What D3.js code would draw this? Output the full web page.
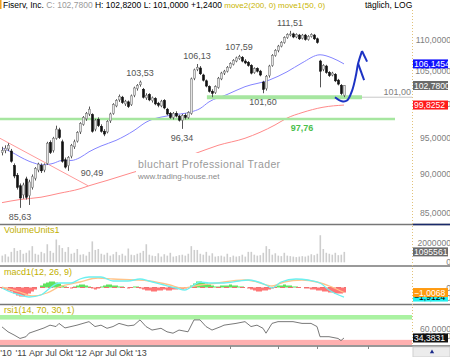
<!DOCTYPE html>
<html>
<head>
<meta charset="utf-8">
<script src="https://cdn.jsdelivr.net/npm/d3@7"></script>
<style>
  body { margin: 0; background: #fff; }
  svg { display: block; font-family: "Liberation Sans", Arial, sans-serif; }
</style>
</head>
<body>
<div id="chart"></div>
<script>
// ---- data ----
var opens = [93.0,93.3,93.5,93.2,91.2,89.9,88.5,87.3,89.4,87.2,88.3,89.5,90.6,91.2,90.6,91.5,94.4,93.3,95.0,96.2,
  94.5,92.0,91.2,92.5,93.8,94.6,95.9,97.0,97.8,98.5,98.4,96.3,97.7,96.7,96.0,95.9,97.5,98.6,99.7,100.6,
  101.0,100.0,100.3,99.9,101.3,102.3,102.9,102.2,100.9,101.4,100.5,100.8,100.1,99.7,100.5,99.2,98.6,98.0,98.6,98.2,
  97.6,98.3,98.0,98.6,103.9,105.3,105.5,104.4,103.5,102.6,101.9,101.7,102.5,103.8,104.7,105.0,105.6,106.1,106.6,107.0,
  107.2,106.6,106.4,105.9,104.8,105.4,105.0,103.3,102.3,104.3,105.9,107.5,108.3,109.0,109.6,110.4,110.9,111.0,110.5,110.8,
  110.3,110.8,110.1,110.6,110.8,110.2,106.6,105.3,105.8,104.8,104.4,104.5,103.6,102.8,101.3];
var highs = [93.8,94.0,94.3,93.5,91.5,90.2,88.8,88.9,89.7,89.3,90.0,91.0,91.6,91.5,91.5,94.5,94.7,95.2,96.8,96.5,
  94.8,92.3,92.5,94.2,94.8,96.0,97.3,98.2,98.8,99.6,98.6,97.8,98.0,97.0,96.3,97.6,98.7,100.1,100.7,101.4,
  101.2,100.6,100.5,101.4,102.6,103.0,103.53,102.4,101.6,101.6,101.1,101.0,100.3,100.6,100.7,99.4,98.8,98.8,98.9,98.4,
  98.5,98.6,98.9,104.0,105.4,106.13,105.8,104.6,103.7,102.8,102.2,102.8,104.1,104.9,105.2,105.8,106.4,106.9,107.3,107.59,
  107.4,106.9,106.6,106.1,105.6,105.6,105.2,103.5,104.4,106.0,107.7,108.5,109.2,109.8,110.6,111.1,111.51,111.2,111.1,111.0,
  111.0,111.0,110.8,111.1,111.0,110.4,106.8,106.1,106.0,105.0,104.9,104.7,103.8,103.0,102.82];
var lows = [92.6,92.9,93.2,91.6,89.5,88.0,85.63,86.8,86.7,86.0,88.0,89.2,90.3,90.2,90.3,91.3,92.8,93.0,94.8,94.9,
  91.6,90.8,90.49,92.2,93.5,94.4,95.6,96.8,97.5,98.2,95.8,96.0,96.6,95.8,95.3,95.7,97.2,98.4,99.5,100.3,
  100.0,99.7,99.4,99.7,101.0,102.0,102.6,100.8,100.6,100.4,100.2,99.8,99.5,99.5,99.2,98.3,97.8,97.7,98.0,97.4,
  96.34,97.7,97.8,98.4,103.6,105.0,104.4,103.4,102.5,101.7,101.0,101.5,102.3,103.6,104.4,104.8,105.4,105.9,106.4,106.8,
  106.4,106.1,105.7,104.5,104.6,104.8,104.2,101.6,102.0,104.0,105.7,107.3,108.0,108.8,109.4,110.2,110.6,110.3,110.3,110.0,
  110.1,109.9,109.9,110.4,110.0,109.4,102.5,105.0,104.6,104.1,104.2,103.3,102.8,101.3,101.00];
var closes = [93.3,93.6,94.0,91.8,89.8,88.3,86.9,88.6,87.0,89.0,89.7,90.8,91.4,90.5,91.3,94.3,93.0,95.0,96.3,95.1,
  91.8,91.0,92.3,94.0,94.5,95.8,97.1,98.0,98.6,99.2,96.0,97.6,96.8,96.0,95.6,97.4,98.5,99.9,100.5,101.1,
  100.2,100.4,99.6,101.2,102.4,102.8,103.3,101.0,101.3,100.6,100.9,100.0,99.8,100.4,99.4,98.5,98.0,98.6,98.2,97.6,
  98.3,98.0,98.7,103.8,105.2,105.6,104.6,103.6,102.7,101.9,101.6,102.6,103.9,104.7,105.0,105.6,106.2,106.7,107.1,107.3,
  106.6,106.3,105.9,104.7,105.4,105.0,104.4,102.2,104.2,105.8,107.5,108.3,109.0,109.6,110.4,110.9,111.0,110.5,110.9,110.2,
  110.8,110.1,110.6,110.9,110.2,109.6,105.0,105.9,104.8,104.3,104.7,103.5,103.0,101.54,102.78];
var volumes = [700000,850000,600000,1100000,1500000,1200000,1300000,900000,1000000,1250000,
  1700000,900000,800000,1100000,950000,1900000,1200000,1000000,2400000,1800000,
  1500000,1100000,1600000,900000,1000000,1400000,800000,850000,700000,1100000,
  2200000,1300000,1400000,900000,800000,1000000,700000,850000,1100000,750000,
  900000,700000,1450000,800000,750000,900000,1000000,1200000,1900000,800000,
  700000,650000,950000,600000,850000,700000,1000000,600000,650000,750000,
  800000,700000,900000,1700000,1300000,1300000,900000,800000,1100000,700000,
  950000,600000,650000,700000,600000,900000,550000,700000,600000,650000,
  800000,600000,1100000,1100000,800000,700000,750000,1000000,1700000,1400000,
  800000,950000,700000,650000,1000000,700000,650000,600000,550000,600000,
  650000,600000,700000,850000,750000,900000,2850000,1400000,1000000,900000,
  800000,1000000,750000,800000,1095561];

// moving averages (bar index, value)
var ma50Idx = [0,3,6,9,14,17,20,23,26,29,33,38,44,48,56,63,66,69,75,81,89,95,100,106,110,114];
var ma50Val = [93.6,93.1,92.4,91.8,91.3,91.5,91.9,91.9,92.3,93.1,93.9,94.7,96.1,97.3,98.3,98.8,99.3,100.3,101.4,102.6,103.6,104.9,106.3,107.6,107.1,106.1454];
var ma200Idx = [0,6,13,19,26,29,35,43,64,72,81,91,95,100,107,114];
var ma200Val = [86.3,86.7,87.0,87.5,88.1,88.5,89.2,90.2,92.8,94.0,95.0,96.9,97.9,98.7,99.5,99.8252];

// macd (12,26,9)
var macdIdx = [0,2,6,9,13,16,19,23,26,29,33,37,42,46,49,54,58,61,63,66,69,74,79,82,88,90,93,98,102,106,109,114];
var macdVal = [-0.1,-0.7,-1.5,-1.9,-1.5,-0.1,0.9,0.9,1.7,2.1,2.1,1.3,1.3,1.7,1.3,0.5,-0.1,-0.5,0.1,1.1,0.9,0.9,1.3,1.5,0.5,-0.1,1.1,1.7,1.5,0.9,-0.5,-1.9124];
var sigIdx = [0,6,10,15,19,26,32,37,44,49,56,60,66,72,74,81,85,90,94,100,105,110,114];
var sigVal = [0.1,-0.9,-1.7,-1.1,0.1,1.1,1.9,1.7,1.5,1.3,0.5,-0.1,0.5,0.9,1.1,1.5,1.1,0.3,1.1,1.5,1.1,0.1,-1.0068];
var histVal = [-1,-2,-3,-4,-6,-8,-9,-9,-8,-6,-4,-2,0,2,4,5,6,6,5,4,2,1,0,-1,1,2,3,3,2,1,-1,-2,-1,
  1,2,3,3,2,2,1,1,0,-1,0,1,1,-1,-2,-3,-3,-4,-4,-3,-3,-2,-3,-3,-2,-2,-1,-2,-1,0,
  2,4,6,6,5,4,3,2,1,1,2,2,2,3,2,2,1,1,0,-1,-2,-3,-4,-4,-3,-3,-2,-1,
  1,2,2,3,2,2,1,1,0,0,-1,-1,-2,-2,-3,-3,-4,-4,-5,-5,-6,-6,-6,-5];

// rsi (14,70,30,1)
var rsiIdx = [0,2,4,6,8,9,12,14,16,18,19,21,23,25,27,29,31,33,35,37,39,42,44,46,48,50,53,55,57,59,62,64,66,68,70,73,74,78,81,83,85,87,88,90,92,97,100,103,105,106,109,112,113,114];
var rsiVal = [66,52,43,33,38,48,57,63,71,67,76,63,67,71,76,81,67,71,62,67,76,69,71,86,67,57,62,52,48,57,52,86,86,67,57,67,71,76,81,67,71,62,48,76,81,81,76,76,67,38,38,33,27,34.3831];
var rsiUpperBand = [87, 100];
var rsiLowerBand = [14, 29];

// chart annotations
var pivotIdx = [6, 22, 46, 60, 65, 79, 87, 96];
var pivotVal = [85.63, 90.49, 103.53, 96.34, 106.13, 107.59, 101.60, 111.51];
var pivotSide = ["low", "low", "high", "low", "high", "high", "low", "high"];
var trendIdx = [-0.7, 28.7];
var trendVal = [95.0, 88.5];
var supportLong = {from: -1, to: 131, value: 97.76, labelAt: 100};
var supportZone = {from: 68.3, to: 120, value: 101.0, lineTo: 137};
var forecastIdx = [111, 113.3, 115, 116.7, 118, 118.7, 120];
var forecastVal = [101.0, 100.4, 100.5, 102.0, 104.4, 106.2, 108.2];
var arrowArms = [[[120, 108.2], [121.7, 106.5]], [[118.7, 106.2], [120.7, 103.6]]];

var priceTicks = [85, 90, 95, 100, 105, 110];
var volTicks = [0, 2000000];
var macdTicks = [0, -2];
var rsiTicks = [40, 60];
var timeLabels = ["'10", "'11", "Apr", "Jul", "Okt", "'12", "Apr", "Jul", "Okt", "'13"];
var extraTickIdx = [76, 92, 105, 122];

// ---- layout ----
var W = 450, H = 357, plotR = 412;
var fmt4 = function(v) { return d3.format(".4f")(v).replace(".", ","); };
var fmt2 = function(v) { return d3.format(".2f")(v).replace(".", ","); };

var svg = d3.select("#chart").append("svg").attr("width", W).attr("height", H);

var x = d3.scaleLinear().domain([0, closes.length - 1]).range([2, 344]);
var y = d3.scaleLog().domain([85, 110]).range([212.8, 40]);
var yVol = d3.scaleLinear().domain([0, 2000000]).range([262.3, 243.3]);
var yMacd = d3.scaleLinear().domain([-2, 0]).range([297.5, 287.5]);
var yHist = d3.scaleLinear().domain([-10, 10]).range([297.5, 277.5]);
var yRsi = d3.scaleLinear().domain([0, 100]).range([350, 315]);

var defs = svg.append("defs");
defs.append("clipPath").attr("id", "clipMain").append("rect").attr("x", 0).attr("y", 10).attr("width", plotR).attr("height", 214);

// header
svg.append("rect").attr("x", 0).attr("y", 0).attr("width", 1.5).attr("height", 9).attr("fill", "#f0a020");
var last = closes.length - 1;
var head = svg.append("text").attr("x", 3).attr("y", 8).style("font-size", "8.5px");
head.append("tspan").attr("fill", "#000").text("Fiserv, Inc. ");
head.append("tspan").attr("fill", "#9a9a9a").text("C: " + fmt4(closes[last]) + " ");
head.append("tspan").attr("fill", "#000").text("H: " + fmt4(highs[last]) + " L: " + fmt4(lows[last]) + " +" + fmt4(closes[last] - closes[last - 1]) + " ");
head.append("tspan").attr("fill", "#c8b400").style("font-size", "8px").text("move2(200, 0) move1(50, 0)");
svg.append("text").attr("x", 365).attr("y", 8).style("font-size", "8.5px").attr("fill", "#000").text("täglich, LOG");

// ---- main panel ----
var main = svg.append("g").attr("clip-path", "url(#clipMain)");

var lineIdx = d3.line().x(function(d) { return x(d[0]); }).y(function(d) { return y(d[1]); });

main.append("path")
  .datum(ma200Idx.map(function(d, i) { return [d, ma200Val[i]]; }))
  .attr("fill", "none").attr("stroke", "#ff8a8a").attr("stroke-width", 1)
  .attr("d", lineIdx.curve(d3.curveMonotoneX));

// watermark
main.append("rect").attr("x", 136).attr("y", 153).attr("width", 140).attr("height", 29).attr("fill", "#fff");
main.append("text").attr("x", 138).attr("y", 168).style("font-size", "10.5px").attr("fill", "#9a9a9a")
  .style("letter-spacing", "0.4px").text("bluchart Professional Trader");
main.append("text").attr("x", 138).attr("y", 179).style("font-size", "8px").attr("fill", "#8a8a8a")
  .text("www.trading-house.net");

main.append("path")
  .datum(trendIdx.map(function(d, i) { return [d, trendVal[i]]; }))
  .attr("fill", "none").attr("stroke", "#ff9a9a").attr("stroke-width", 1)
  .attr("d", d3.line().x(function(d) { return x(d[0]); }).y(function(d) { return y(d[1]); }));

main.append("path")
  .datum(ma50Idx.map(function(d, i) { return [d, ma50Val[i]]; }))
  .attr("fill", "none").attr("stroke", "#8585ff").attr("stroke-width", 1)
  .attr("d", d3.line().x(function(d) { return x(d[0]); }).y(function(d) { return y(d[1]); }).curve(d3.curveMonotoneX));

// support lines
main.append("line")
  .attr("x1", x(supportLong.from)).attr("x2", x(supportLong.to))
  .attr("y1", y(supportLong.value)).attr("y2", y(supportLong.value))
  .attr("stroke", "#a6e6a0").attr("stroke-width", 2.5);
main.append("text").attr("x", x(supportLong.labelAt)).attr("y", y(supportLong.value) + 12)
  .attr("text-anchor", "middle").style("font-size", "9px").style("font-weight", "bold").attr("fill", "#4cc04c")
  .text(fmt2(supportLong.value));

main.append("line")
  .attr("x1", x(supportZone.to)).attr("x2", x(supportZone.lineTo))
  .attr("y1", y(supportZone.value)).attr("y2", y(supportZone.value))
  .attr("stroke", "#c8c8c8").attr("stroke-width", 1);
main.append("line")
  .attr("x1", x(supportZone.from)).attr("x2", x(supportZone.to))
  .attr("y1", y(supportZone.value)).attr("y2", y(supportZone.value))
  .attr("stroke", "#a6e6a0").attr("stroke-width", 4);
main.append("text").attr("x", x(supportZone.lineTo) - 2).attr("y", y(supportZone.value) - 2.5)
  .attr("text-anchor", "end").style("font-size", "9px").attr("fill", "#808080")
  .text(fmt2(supportZone.value));

// candles
var candles = main.append("g").selectAll("g").data(closes).enter().append("g");
candles.append("line")
  .attr("x1", function(d, i) { return x(i) + 0.5; })
  .attr("x2", function(d, i) { return x(i) + 0.5; })
  .attr("y1", function(d, i) { return y(highs[i]); })
  .attr("y2", function(d, i) { return y(lows[i]); })
  .attr("stroke", "#555").attr("stroke-width", 1);
candles.append("rect")
  .attr("x", function(d, i) { return x(i) - 0.5; })
  .attr("width", 2)
  .attr("y", function(d, i) { return y(Math.max(opens[i], d)); })
  .attr("height", function(d, i) { return Math.max(1, Math.abs(y(opens[i]) - y(d))); })
  .attr("fill", function(d, i) { return d >= opens[i] ? "#e4e4e4" : "#111"; })
  .attr("stroke", function(d, i) { return d >= opens[i] ? "#7a7a7a" : "#111"; })
  .attr("stroke-width", 0.6);

// pivot labels
pivotIdx.forEach(function(p, k) {
  var v = pivotVal[k], isHigh = pivotSide[k] === "high";
  var tx = x(p), ty = isHigh ? y(v) - 5 : y(v) + 12;
  if (v === 90.49) { tx = x(p) + 24; ty = y(v) + 5; }
  main.append("text").attr("x", tx).attr("y", ty).attr("text-anchor", "middle")
    .style("font-size", "9px").attr("fill", "#555").text(fmt2(v));
});

// forecast drawing
main.append("path")
  .datum(forecastIdx.map(function(d, i) { return [d, forecastVal[i]]; }))
  .attr("fill", "none").attr("stroke", "#1d33c4").attr("stroke-width", 2)
  .attr("d", d3.line().x(function(d) { return x(d[0]); }).y(function(d) { return y(d[1]); }).curve(d3.curveCatmullRom));
arrowArms.forEach(function(a) {
  main.append("path").datum(a).attr("fill", "none").attr("stroke", "#1d33c4").attr("stroke-width", 2)
    .attr("d", d3.line().x(function(d) { return x(d[0]); }).y(function(d) { return y(d[1]); }));
});

// ---- volume panel ----
svg.append("text").attr("x", 4).attr("y", 233).style("font-size", "9px").attr("fill", "#c2b000").text("VolumeUnits1");
svg.append("g").selectAll("rect").data(volumes).enter().append("rect")
  .attr("x", function(d, i) { return x(i) - 0.5; })
  .attr("width", 1.6)
  .attr("y", function(d) { return yVol(d); })
  .attr("height", function(d) { return yVol(0) - yVol(d); })
  .attr("fill", "#cdcdcd");

// ---- macd panel ----
svg.append("text").attr("x", 4).attr("y", 275).style("font-size", "9px").attr("fill", "#c2b000").text("macd1(12, 26, 9)");
svg.append("g").selectAll("rect").data(histVal).enter().append("rect")
  .attr("x", function(d, i) { return x(i) - 1; })
  .attr("width", 3)
  .attr("y", function(d) { return yHist(Math.max(0, d)); })
  .attr("height", function(d) { return Math.abs(yHist(d) - yHist(0)); })
  .attr("fill", function(d) { return d >= 0 ? "#5fe35f" : "#ff7474"; });
svg.append("line").attr("x1", 0).attr("x2", x(closes.length - 1) + 2)
  .attr("y1", yMacd(0)).attr("y2", yMacd(0))
  .attr("stroke", "#f07070").attr("stroke-width", 1).attr("stroke-dasharray", "5,3");
svg.append("path")
  .datum(sigIdx.map(function(d, i) { return [d, sigVal[i]]; }))
  .attr("fill", "none").attr("stroke", "#ffc48a").attr("stroke-width", 1.3)
  .attr("d", d3.line().x(function(d) { return x(d[0]); }).y(function(d) { return yMacd(d[1]); }).curve(d3.curveMonotoneX));
svg.append("path")
  .datum(macdIdx.map(function(d, i) { return [d, macdVal[i]]; }))
  .attr("fill", "none").attr("stroke", "#6cf0f0").attr("stroke-width", 1.3)
  .attr("d", d3.line().x(function(d) { return x(d[0]); }).y(function(d) { return yMacd(d[1]); }).curve(d3.curveMonotoneX));

// ---- rsi panel ----
svg.append("text").attr("x", 4).attr("y", 313).style("font-size", "9px").attr("fill", "#c2b000").text("rsi1(14, 70, 30, 1)");
svg.append("rect").attr("x", 0).attr("width", plotR)
  .attr("y", yRsi(rsiUpperBand[1])).attr("height", yRsi(rsiUpperBand[0]) - yRsi(rsiUpperBand[1]))
  .attr("fill", "#aaf2a2");
svg.append("rect").attr("x", 0).attr("width", plotR)
  .attr("y", yRsi(rsiLowerBand[1])).attr("height", yRsi(rsiLowerBand[0]) - yRsi(rsiLowerBand[1]))
  .attr("fill", "#ffb0b0");
svg.append("path")
  .datum(rsiIdx.map(function(d, i) { return [d, rsiVal[i]]; }))
  .attr("fill", "none").attr("stroke", "#6a6a6a").attr("stroke-width", 0.9)
  .attr("d", d3.line().x(function(d) { return x(d[0]); }).y(function(d) { return yRsi(d[1]); }));

// ---- panel frames ----
[224.5, 266, 304.5, 346].forEach(function(yy) {
  svg.append("line").attr("x1", 0).attr("x2", W).attr("y1", yy).attr("y2", yy)
    .attr("stroke", "#777").attr("stroke-width", 1.3);
});
svg.append("line").attr("x1", plotR + 1).attr("x2", W).attr("y1", 224.5).attr("y2", 224.5)
  .attr("stroke", "#1a2a6a").attr("stroke-width", 1.3);
svg.append("line").attr("x1", plotR + 0.5).attr("x2", plotR + 0.5).attr("y1", 10).attr("y2", 346)
  .attr("stroke", "#e2c27a").attr("stroke-width", 1).attr("stroke-dasharray", "1,2");

// ---- right axes ----
function axisLabels(ticks, scale, fmt) {
  ticks.forEach(function(t) {
    svg.append("text").attr("x", 451).attr("y", scale(t) + 3).attr("text-anchor", "end")
      .style("font-size", "8.6px").attr("fill", "#808080").text(fmt(t));
  });
}
axisLabels(priceTicks, y, fmt4);
axisLabels(volTicks, yVol, function(v) { return String(v); });
axisLabels(macdTicks, yMacd, function(v) { return v === 0 ? "0" : fmt4(v); });
axisLabels(rsiTicks, yRsi, fmt4);

function valueBox(yy, txt, bg, fg) {
  svg.append("rect").attr("x", 413).attr("y", yy - 4.5).attr("width", 35).attr("height", 9).attr("fill", bg);
  svg.append("text").attr("x", 414).attr("y", yy + 3).style("font-size", "8.6px").attr("fill", fg).text(txt);
}
valueBox(y(ma50Val[ma50Val.length - 1]), fmt4(ma50Val[ma50Val.length - 1]), "#1010ff", "#fff");
valueBox(y(closes[last]), fmt4(closes[last]), "#6a6a6a", "#fff");
valueBox(y(ma200Val[ma200Val.length - 1]), fmt4(ma200Val[ma200Val.length - 1]), "#ff1a1a", "#fff");
valueBox(yVol(volumes[last]), String(volumes[last]), "#6a6a6a", "#fff");
valueBox(yMacd(macdVal[macdVal.length - 1]), fmt4(macdVal[macdVal.length - 1]), "#22f0f0", "#000");
valueBox(yMacd(sigVal[sigVal.length - 1]), fmt4(sigVal[sigVal.length - 1]), "#ff9a10", "#fff");
valueBox(yRsi(rsiVal[rsiVal.length - 1]), fmt4(rsiVal[rsiVal.length - 1]), "#111", "#fff");

// ---- time axis ----
var xt = d3.scalePoint().domain(d3.range(timeLabels.length)).range([6, 141]);
timeLabels.forEach(function(t, k) {
  svg.append("text").attr("x", xt(k)).attr("y", 356).attr("text-anchor", "middle")
    .style("font-size", "9px").attr("fill", "#444").text(t);
});
extraTickIdx.forEach(function(t) {
  svg.append("line").attr("x1", x(t) + 0.5).attr("x2", x(t) + 0.5).attr("y1", 346).attr("y2", 349)
    .attr("stroke", "#888");
});
svg.append("rect").attr("x", 413).attr("y", 347).attr("width", 37).attr("height", 10)
  .attr("fill", "#ececec").attr("stroke", "#cfcfcf");
svg.append("path").attr("d", d3.symbol().type(d3.symbolTriangle).size(8)())
  .attr("transform", "translate(432,352)").attr("fill", "#1a2a8a");
</script>
</body>
</html>
